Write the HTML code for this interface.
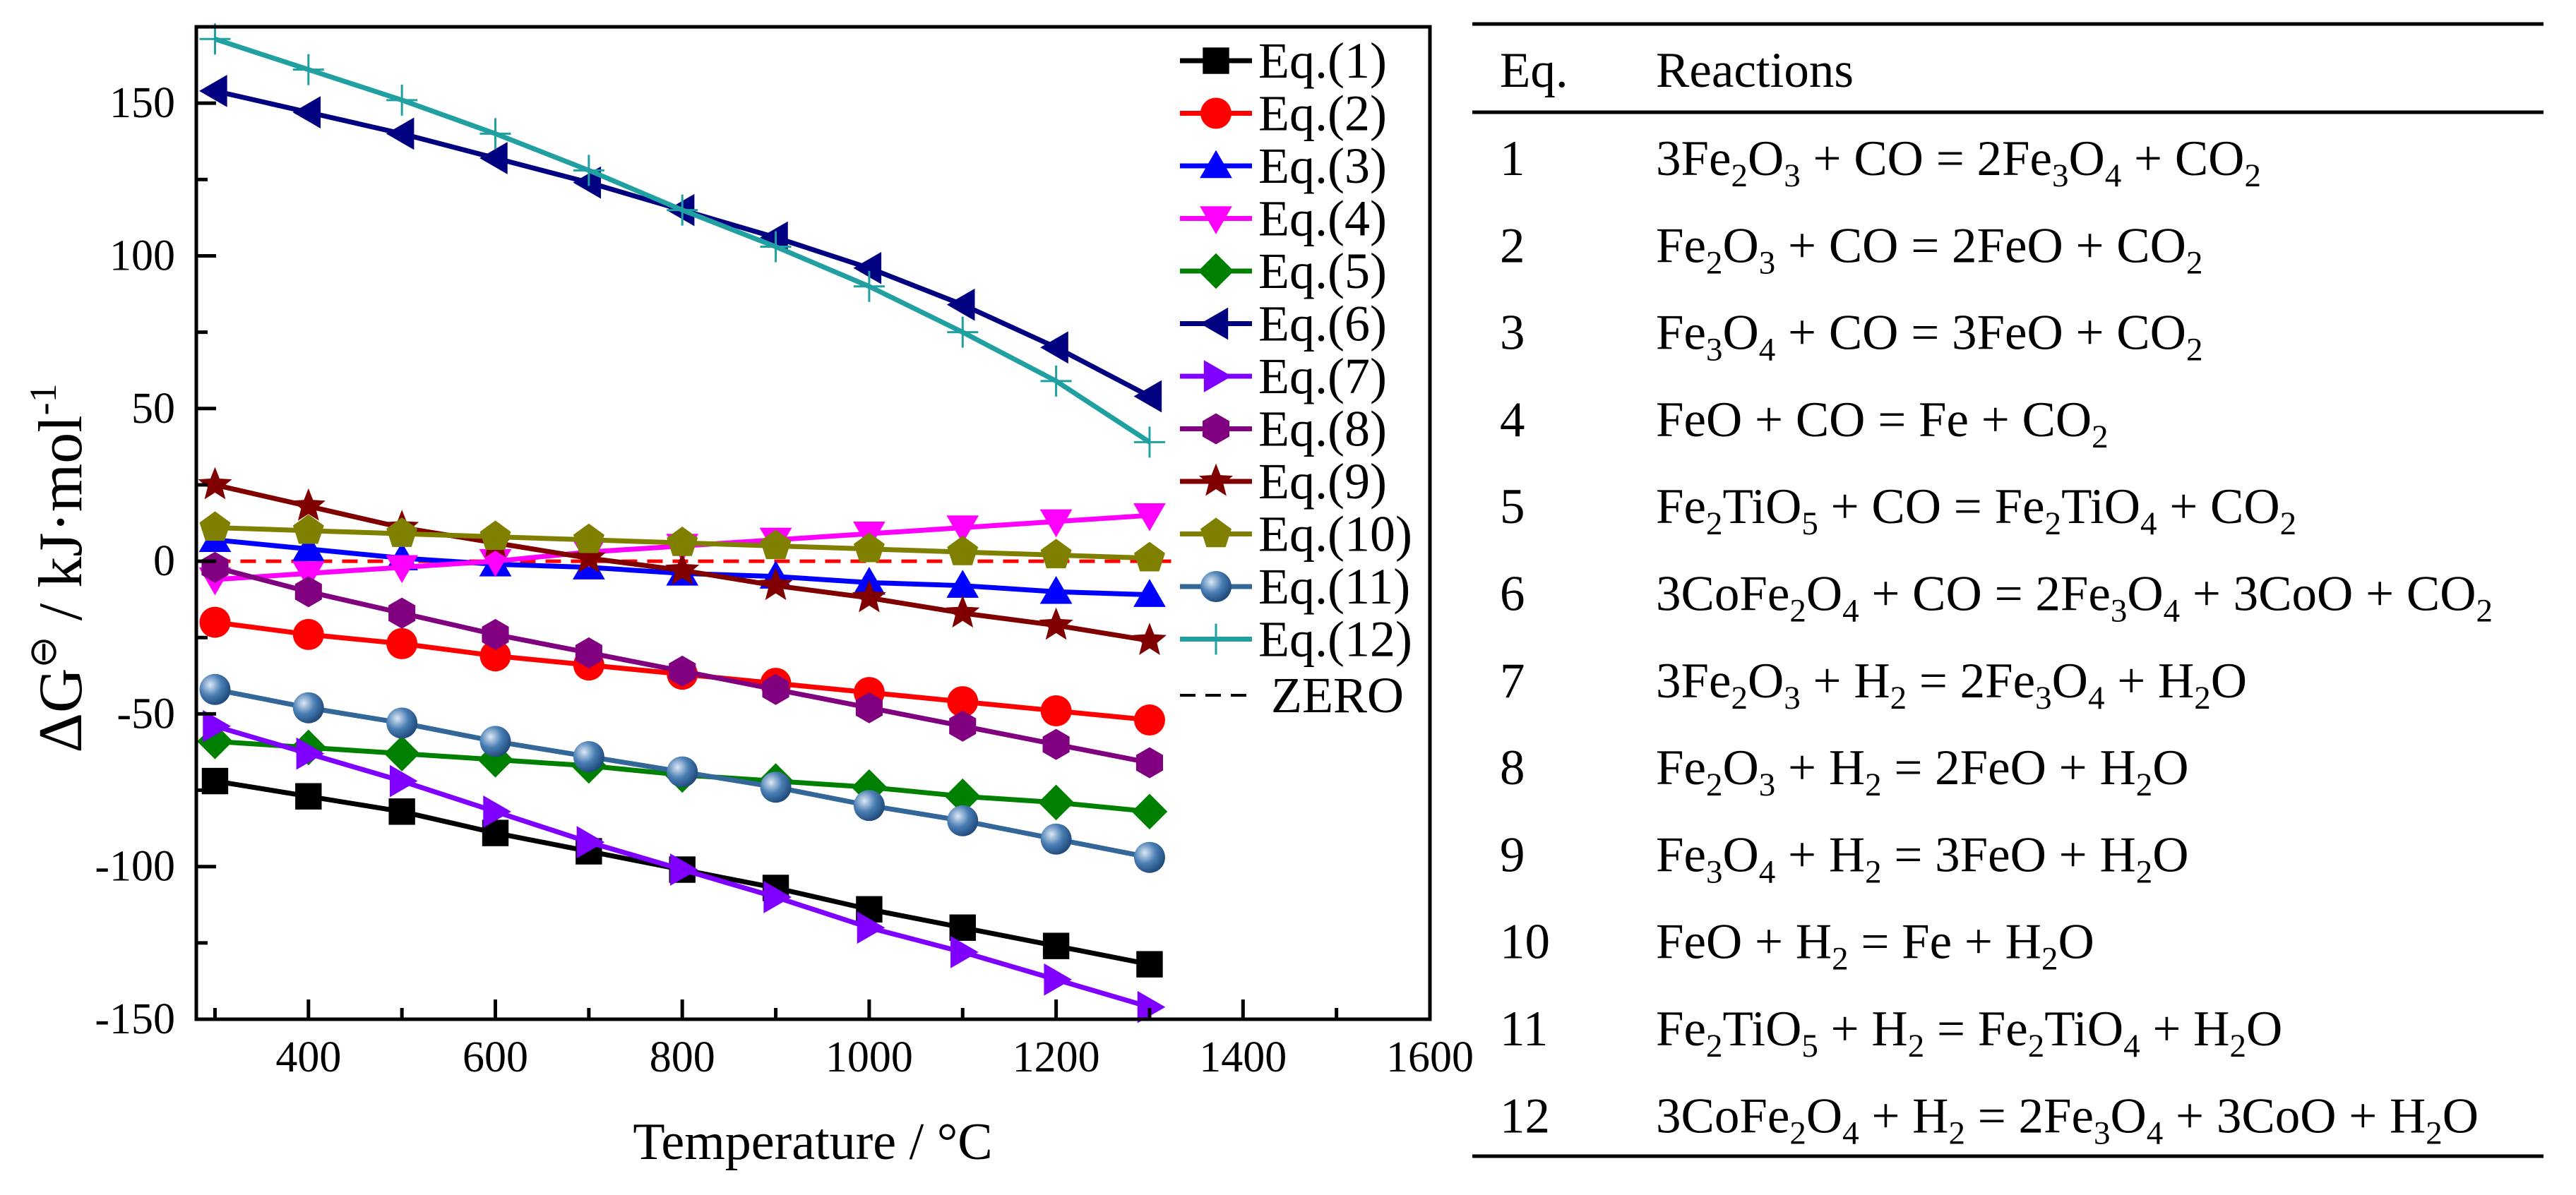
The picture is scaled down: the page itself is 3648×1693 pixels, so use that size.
<!DOCTYPE html>
<html><head><meta charset="utf-8"><style>
html,body{margin:0;padding:0;background:#fff;}
svg{display:block;font-family:"Liberation Serif",serif;}
</style></head><body>
<svg id="svg" width="3648" height="1693" viewBox="0 0 3648 1693" xmlns="http://www.w3.org/2000/svg">
<g id="plot"></g>
<g id="table"></g>
</svg>
<script>
const temps = [300,400,500,600,700,800,900,1000,1100,1200,1300];
const eq1 = [-72,-77,-82,-89,-95,-101,-107,-114,-120,-126,-132];
const eq2 = [-20,-24,-27,-31,-34,-37,-40,-43,-46,-49,-52];
const eq3 = [7,4,1,-1,-2,-4,-5,-7,-8,-10,-11];
const eq4 = [-6,-4,-2,0,3,5,7,9,11,13,15];
const eq5 = [-59,-61,-63,-65,-67,-70,-72,-74,-77,-79,-82];
const eq6 = [154,147,140,132,124,115,106,96,84,70,54];
const eq7 = [-54,-63,-72,-82,-92,-101,-110,-120,-128,-137,-146];
const eq8 = [-2,-10,-17,-24,-30,-36,-42,-48,-54,-60,-66];
const eq9 = [25,18,11,6,1,-3,-8,-12,-17,-21,-26];
const eq10 = [11,10,9,8,7,6,5,4,3,2,1];
const eq11 = [-42,-48,-53,-59,-64,-69,-74,-80,-85,-91,-97];
const eq12 = [171,161,151,140,128,115,103,90,75,59,39];
const xTicks = [400,600,800,1000,1200,1400,1600];
const yTicks = [-150,-100,-50,0,50,100,150];
const seriesNames = ["Eq.(1)","Eq.(2)","Eq.(3)","Eq.(4)","Eq.(5)","Eq.(6)","Eq.(7)","Eq.(8)","Eq.(9)","Eq.(10)","Eq.(11)","Eq.(12)"];

const NS="http://www.w3.org/2000/svg";
const L=278,R=2025,T=38,B=1444;
const X0=280,X1=1600,Y0=-150,Y1=175;
function sx(t){return L+(t-X0)/(X1-X0)*(R-L);}
function sy(v){return B-(v-Y0)/(Y1-Y0)*(B-T);}
function mk(tag,attrs,parent){const e=document.createElementNS(NS,tag);for(const k in attrs)e.setAttribute(k,attrs[k]);parent.appendChild(e);return e;}
const plot=document.getElementById('plot');

const zl=mk('line',{x1:sx(300),x2:sx(1590),y1:sy(0),y2:sy(0),stroke:'#ff0000','stroke-width':5,'stroke-dasharray':'22,14'},plot);



const series=[
 {d:eq1,c:'#000000',m:'square'},{d:eq2,c:'#ff0000',m:'circle'},{d:eq3,c:'#0000ff',m:'up'},
 {d:eq4,c:'#ff00ff',m:'down'},{d:eq5,c:'#008000',m:'diamond'},{d:eq6,c:'#000080',m:'left'},
 {d:eq7,c:'#8000ff',m:'right'},{d:eq8,c:'#800080',m:'hex'},{d:eq9,c:'#800000',m:'star'},
 {d:eq10,c:'#808000',m:'pent'},{d:eq11,c:'#336699',m:'sphere'},{d:eq12,c:'#20a0a0',m:'plus'}];

const defs=mk('defs',{},document.getElementById('svg'));
const rg=mk('radialGradient',{id:'sph',cx:'0.35',cy:'0.35',r:'0.7'},defs);
mk('stop',{offset:'0','stop-color':'#dde8f4'},rg);
mk('stop',{offset:'0.5','stop-color':'#4a7fb5'},rg);
mk('stop',{offset:'1','stop-color':'#1d4777'},rg);

function poly(n,r,rot){const p=[];for(let i=0;i<n;i++){const a=rot+i*2*Math.PI/n;p.push([r*Math.cos(a),r*Math.sin(a)]);}return p;}
function marker(type,x,y,c,parent){
 const s=22;let e;
 const P=(pts)=>mk('polygon',{points:pts.map(p=>(x+p[0])+','+(y+p[1])).join(' '),fill:c},parent);
 switch(type){
  case 'square':e=mk('rect',{x:x-s*0.85,y:y-s*0.85,width:s*1.7,height:s*1.7,fill:c},parent);break;
  case 'circle':e=mk('circle',{cx:x,cy:y,r:s,fill:c},parent);break;
  case 'up':e=P(poly(3,s*1.2,-Math.PI/2).map(p=>[p[0],p[1]+4]));break;
  case 'down':e=P(poly(3,s*1.2,Math.PI/2).map(p=>[p[0],p[1]-4]));break;
  case 'diamond':e=P(poly(4,s*1.15,0));break;
  case 'left':e=P(poly(3,s*1.2,Math.PI).map(p=>[p[0]+4,p[1]]));break;
  case 'right':e=P(poly(3,s*1.2,0).map(p=>[p[0]-4,p[1]]));break;
  case 'hex':e=P(poly(6,s,Math.PI/2));break;
  case 'pent':e=P(poly(5,s*1.05,-Math.PI/2));break;
  case 'star':{const p=[];for(let i=0;i<10;i++){const a=-Math.PI/2+i*Math.PI/5;const r=i%2?s*0.5:s*1.15;p.push([r*Math.cos(a),r*Math.sin(a)]);}e=P(p);break;}
  case 'sphere':e=mk('circle',{cx:x,cy:y,r:s,fill:'url(#sph)'},parent);break;
  case 'plus':e=mk('path',{d:`M${x-s} ${y}H${x+s}M${x} ${y-s}V${y+s}`,stroke:c,'stroke-width':3,fill:'none'},parent);break;
 }
 return e;
}

series.forEach((s,i)=>{
 const g=mk('g',{},plot);
 
 
 const pts=temps.map((t,j)=>sx(t)+','+sy(s.d[j])).join(' ');
 mk('polyline',{points:pts,fill:'none',stroke:s.c,'stroke-width':7,'stroke-linejoin':'round'},g);
 temps.forEach((t,j)=>{const m=marker(s.m,sx(t),sy(s.d[j]),s.c,g);
  
  });
});

const fr=mk('rect',{x:L,y:T,width:R-L,height:B-T,fill:'none',stroke:'#000','stroke-width':5},plot);



for(let t=300;t<=1600;t+=100){const maj=t%200===0;
 mk('line',{x1:sx(t),x2:sx(t),y1:B,y2:B-(maj?28:16),stroke:'#000','stroke-width':5},plot);}
for(let v=-150;v<=175;v+=25){const maj=v%50===0;
 mk('line',{x1:L,x2:L+(maj?28:16),y1:sy(v),y2:sy(v),stroke:'#000','stroke-width':5},plot);}
xTicks.forEach(t=>{const e=mk('text',{x:sx(t),y:1518,'font-size':62,'text-anchor':'middle'},plot);e.textContent=t;
 
 });
yTicks.forEach(v=>{const e=mk('text',{x:248,y:sy(v)+20,'font-size':62,'text-anchor':'end'},plot);e.textContent=v;
 
 });

const xt=mk('text',{x:1151,y:1642,'font-size':74,'text-anchor':'middle'},plot);
xt.textContent='Temperature / °C';


const yt=mk('text',{x:0,y:0,'font-size':88,'text-anchor':'middle',transform:'translate(115,805) rotate(-90)'},plot);
yt.innerHTML='ΔG<tspan font-size="54" dy="-36">⊖</tspan><tspan dy="36"> / kJ·mol</tspan><tspan font-size="54" dy="-36">-1</tspan>';



const lg=mk('g',{},plot);


mk('rect',{x:1660,y:45,width:362,height:980,fill:'#fff'},lg);
series.forEach((s,i)=>{
 const y=86+i*74.5;
 const e=mk('g',{},lg);
 
 
 mk('line',{x1:1671,x2:1773,y1:y,y2:y,stroke:s.c,'stroke-width':7},e);
 marker(s.m,1722,y,s.c,e);
 const t=mk('text',{x:1782,y:y+24,'font-size':72},e);t.textContent=seriesNames[i];
});
const zg=mk('g',{},lg);


mk('line',{x1:1671,x2:1773,y1:985,y2:985,stroke:'#000','stroke-width':4,'stroke-dasharray':'22,14'},zg);
const zt=mk('text',{x:1800,y:1009,'font-size':72},zg);zt.textContent='ZERO';

const tb=document.getElementById('table');
[[34,'top-rule'],[159,'header-rule'],[1638,'bottom-rule']].forEach(r=>{
 const l=mk('line',{x1:2085,x2:3602,y1:r[0],y2:r[0],stroke:'#000','stroke-width':5},tb);
 
 });
const h1=mk('text',{x:2124,y:123,'font-size':71},tb);h1.textContent='Eq.';


const h2=mk('text',{x:2345,y:123,'font-size':71},tb);h2.textContent='Reactions';


const rx=[
 '3Fe_2O_3 + CO = 2Fe_3O_4 + CO_2','Fe_2O_3 + CO = 2FeO + CO_2','Fe_3O_4 + CO = 3FeO + CO_2',
 'FeO + CO = Fe + CO_2','Fe_2TiO_5 + CO = Fe_2TiO_4 + CO_2','3CoFe_2O_4 + CO = 2Fe_3O_4 + 3CoO + CO_2',
 '3Fe_2O_3 + H_2 = 2Fe_3O_4 + H_2O','Fe_2O_3 + H_2 = 2FeO + H_2O','Fe_3O_4 + H_2 = 3FeO + H_2O',
 'FeO + H_2 = Fe + H_2O','Fe_2TiO_5 + H_2 = Fe_2TiO_4 + H_2O','3CoFe_2O_4 + H_2 = 2Fe_3O_4 + 3CoO + H_2O'];
rx.forEach((r,i)=>{
 const y=248+i*123.3;
 const row=mk('g',{},tb);
 
 
 const n=mk('text',{x:2124,y:y,'font-size':71},row);n.textContent=String(i+1);
 const t=mk('text',{x:2345,y:y,'font-size':71,'xml:space':'preserve'},row);
 let html='';
 for(let k=0;k<r.length;k++){
  if(r[k]==='_'){html+='<tspan font-size="47" dy="16">'+r[k+1]+'</tspan><tspan dy="-16">\u200B</tspan>';k++;}
  else html+=r[k]===' '?'\u00A0':r[k];
 }
 t.innerHTML=html;
});
</script>
</body></html>
